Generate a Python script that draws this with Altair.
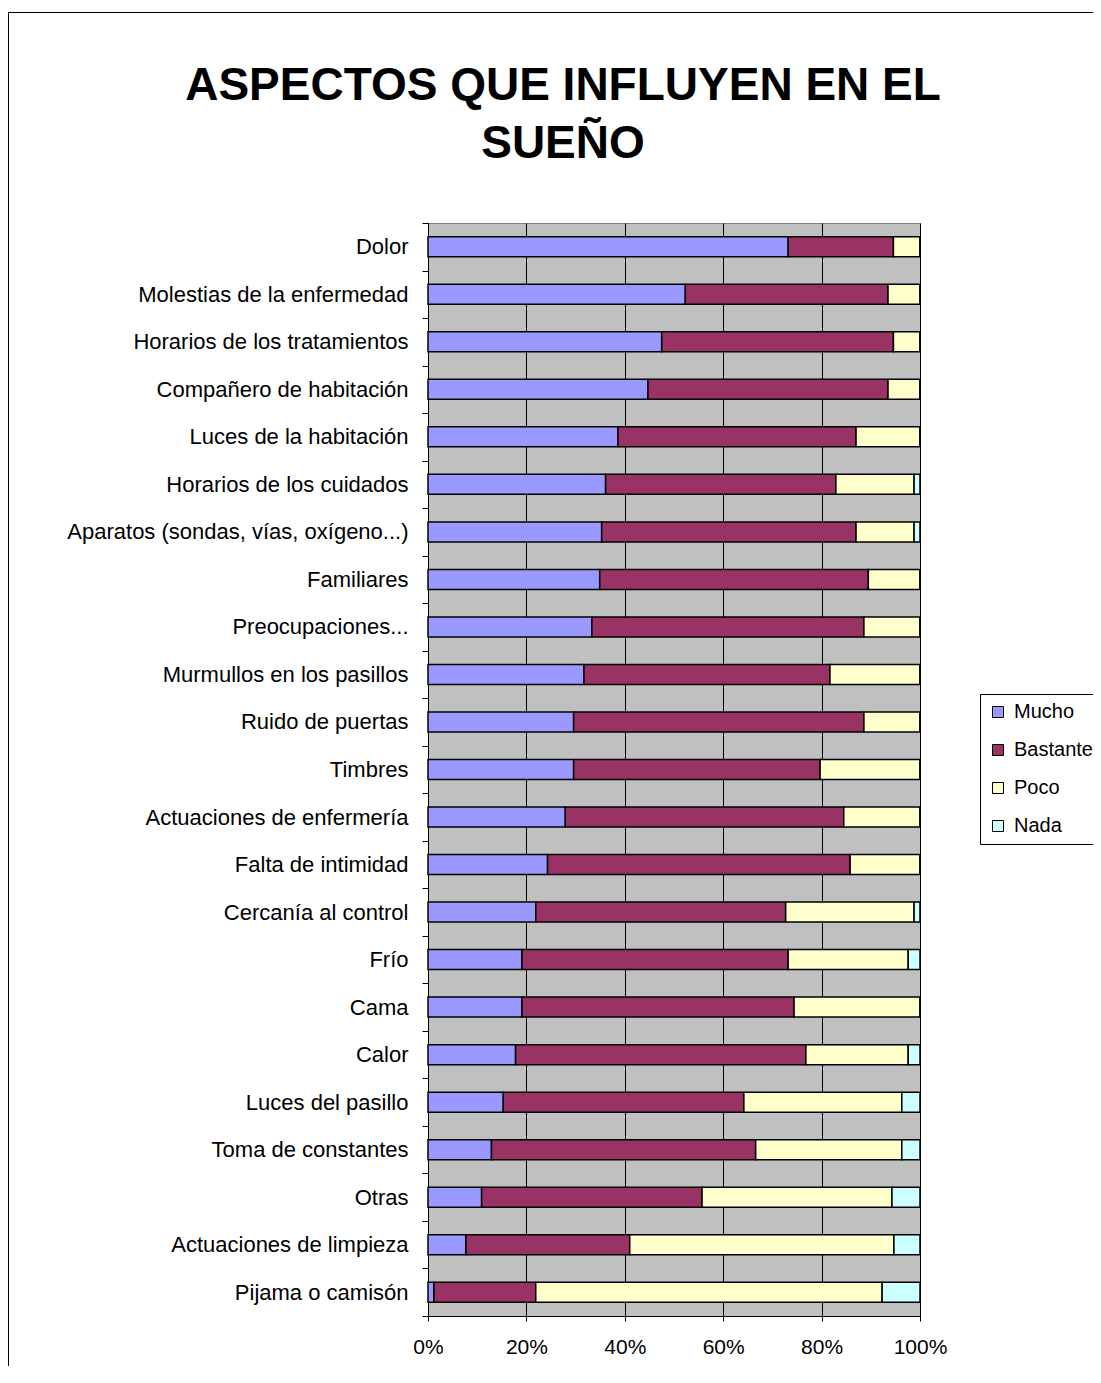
import altair as alt
import pandas as pd

categories = [
    "Dolor", "Molestias de la enfermedad", "Horarios de los tratamientos",
    "Compañero de habitación", "Luces de la habitación", "Horarios de los cuidados",
    "Aparatos (sondas, vías, oxígeno...)", "Familiares", "Preocupaciones...",
    "Murmullos en los pasillos", "Ruido de puertas", "Timbres",
    "Actuaciones de enfermería", "Falta de intimidad", "Cercanía al control",
    "Frío", "Cama", "Calor", "Luces del pasillo", "Toma de constantes",
    "Otras", "Actuaciones de limpieza", "Pijama o camisón",
]
mucho = [73.2, 52.3, 47.5, 44.7, 38.6, 36.1, 35.3, 34.9, 33.3, 31.7, 29.6, 29.6,
         27.9, 24.3, 21.9, 19.1, 19.1, 17.8, 15.3, 12.9, 10.9, 7.7, 1.2]
bastante = [21.4, 41.2, 47.1, 48.8, 48.4, 46.8, 51.7, 54.6, 55.3, 50.0, 59.0, 50.1,
            56.6, 61.5, 50.8, 54.1, 55.3, 59.0, 48.9, 53.7, 44.8, 33.3, 20.7]
poco = [5.4, 6.5, 5.4, 6.5, 13.0, 15.9, 11.8, 10.5, 11.4, 18.3, 11.4, 20.3,
        15.5, 14.2, 26.1, 24.4, 25.6, 20.8, 32.1, 29.7, 38.6, 53.7, 70.4]
nada = [0, 0, 0, 0, 0, 1.2, 1.2, 0, 0, 0, 0, 0,
        0, 0, 1.2, 2.4, 0, 2.4, 3.7, 3.7, 5.7, 5.3, 7.7]
levels = ["Mucho", "Bastante", "Poco", "Nada"]
colors = ["#9999FF", "#993366", "#FFFFCC", "#CCFFFF"]

rows = []
for i, c in enumerate(categories):
    for j, (lev, vals) in enumerate(zip(levels, [mucho, bastante, poco, nada])):
        rows.append({"aspecto": c, "nivel": lev, "orden": j, "valor": vals[i]})
df = pd.DataFrame(rows)

FONT = "Liberation Sans"

bars = alt.Chart(df).mark_bar(stroke="black", strokeWidth=1.5, size=20).encode(
    y=alt.Y(
        "aspecto:N", sort=categories, title=None,
        scale=alt.Scale(paddingInner=0, paddingOuter=0),
        axis=alt.Axis(
            labelFont=FONT, labelFontSize=22, labelColor="black", labelPadding=14,
            tickBand="extent", tickColor="black", tickSize=6, domainColor="black",
            labelLimit=600, grid=False,
        ),
    ),
    x=alt.X(
        "valor:Q", stack="normalize", title=None,
        scale=alt.Scale(domain=[0, 1]),
        axis=alt.Axis(
            values=[0, 0.2, 0.4, 0.6, 0.8, 1.0], format=".0%", grid=True,
            gridColor="black", gridOpacity=1, gridWidth=1, labelFlush=False,
            labelFont=FONT, labelFontSize=21, labelColor="black", labelPadding=15,
            tickColor="black", tickSize=5, domainColor="black",
        ),
    ),
    color=alt.Color(
        "nivel:N", sort=levels,
        scale=alt.Scale(domain=levels, range=colors),
        legend=alt.Legend(
            title=None, orient="none", legendX=552, legendY=471,
            symbolType="square", symbolSize=121, symbolStrokeColor="black",
            symbolStrokeWidth=1, symbolOpacity=1,
            labelFont=FONT, labelFontSize=20, labelColor="black", labelOffset=6,
            rowPadding=18, padding=8, strokeColor="black", fillColor="white",
        ),
    ),
    order=alt.Order("orden:Q", sort="ascending"),
)

frame = alt.Chart(pd.DataFrame({"a": [0]})).mark_rect(
    filled=False, stroke="black", strokeWidth=1
).encode(
    x=alt.value(-419.5), x2=alt.value(720), y=alt.value(-210.5), y2=alt.value(1250)
)

chart = alt.layer(bars, frame).properties(
    width=492,
    height=1093,
    padding={"left": 420, "top": 215, "right": 173, "bottom": 50},
    autosize=alt.AutoSizeParams(type="none"),
    title=alt.Title(
        ["ASPECTOS QUE INFLUYEN EN EL", "SUEÑO"],
        font=FONT, fontSize=46, fontWeight="bold", color="black",
        anchor="middle", dx=-111, offset=-156, lineHeight=58,
    ),
).configure_view(
    fill="#C0C0C0", stroke="#808080"
)

chart.save("out.html", embed_options={"renderer": "svg", "actions": False})
